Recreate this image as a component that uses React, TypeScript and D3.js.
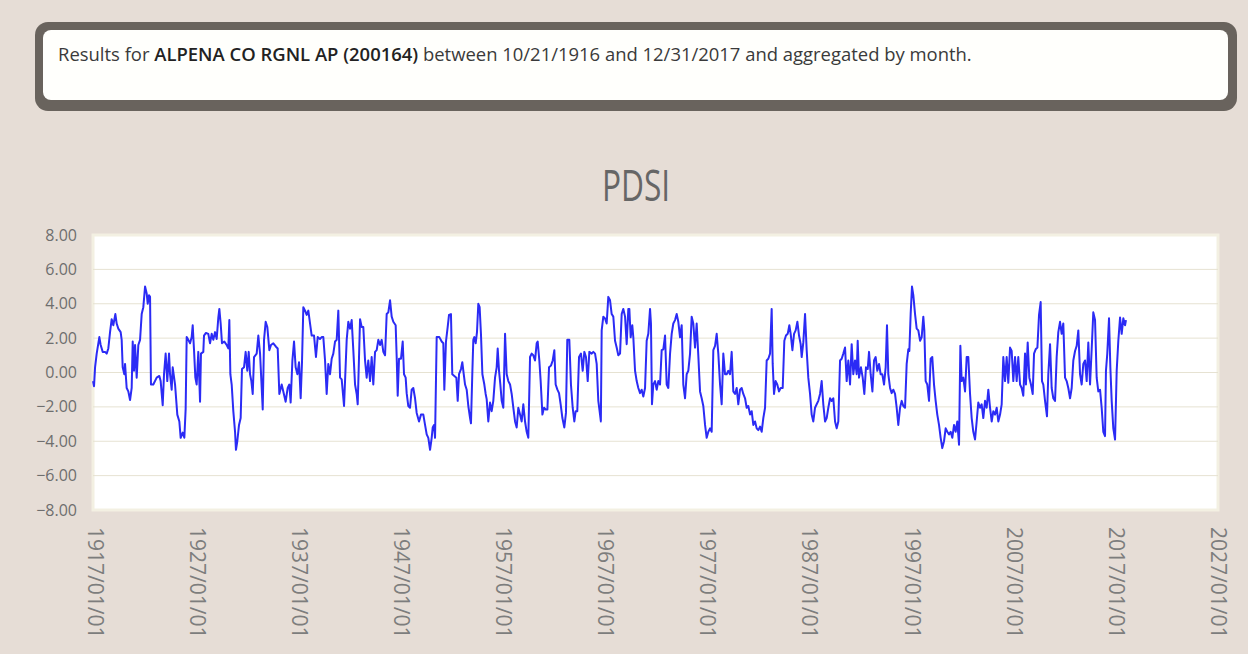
import * as d3 from "d3";

// PDSI monthly series (decimal year, value)
const years = [
  1916.75, 1916.85, 1916.95, 1917.11, 1917.37, 1917.5, 1917.7, 1917.93, 1918.09, 1918.25,
  1918.42, 1918.58, 1918.74, 1918.94, 1919.07, 1919.23, 1919.46, 1919.56, 1919.66, 1919.82,
  1919.89, 1920.05, 1920.21, 1920.38, 1920.54, 1920.64, 1920.77, 1920.87, 1921.03, 1921.19,
  1921.36, 1921.52, 1921.68, 1921.85, 1922.01, 1922.11, 1922.24, 1922.34, 1922.43, 1922.66,
  1922.99, 1923.25, 1923.38, 1923.58, 1923.71, 1923.87, 1924.03, 1924.2, 1924.3, 1924.46,
  1924.56, 1924.79, 1925.01, 1925.21, 1925.34, 1925.54, 1925.7, 1925.83, 1925.93, 1926.09,
  1926.26, 1926.42, 1926.52, 1926.65, 1926.78, 1926.91, 1927.07, 1927.24, 1927.33, 1927.56,
  1927.63, 1927.82, 1928.05, 1928.22, 1928.38, 1928.54, 1928.71, 1928.87, 1929.03, 1929.13,
  1929.26, 1929.39, 1929.62, 1929.85, 1930.01, 1930.11, 1930.21, 1930.34, 1930.5, 1930.67,
  1930.76, 1930.89, 1931.06, 1931.22, 1931.35, 1931.55, 1931.71, 1931.87, 1932.01, 1932.14,
  1932.27, 1932.4, 1932.53, 1932.79, 1932.95, 1933.12, 1933.25, 1933.38, 1933.51, 1933.67,
  1933.83, 1934.03, 1934.19, 1934.42, 1934.68, 1934.85, 1935.01, 1935.24, 1935.4, 1935.63,
  1935.83, 1935.99, 1936.12, 1936.29, 1936.45, 1936.61, 1936.78, 1936.94, 1937.1, 1937.23,
  1937.36, 1937.53, 1937.69, 1937.85, 1938.02, 1938.18, 1938.41, 1938.6, 1938.77, 1938.99,
  1939.16, 1939.32, 1939.49, 1939.65, 1939.81, 1939.98, 1940.14, 1940.3, 1940.47, 1940.63,
  1940.79, 1940.96, 1941.12, 1941.35, 1941.61, 1941.77, 1941.94, 1942.1, 1942.26, 1942.43,
  1942.59, 1942.69, 1942.82, 1942.92, 1943.08, 1943.24, 1943.41, 1943.57, 1943.73, 1943.9,
  1944.06, 1944.22, 1944.39, 1944.55, 1944.71, 1944.88, 1945.04, 1945.2, 1945.37, 1945.53,
  1945.69, 1945.86, 1946.02, 1946.18, 1946.41, 1946.51, 1946.61, 1946.74, 1946.93, 1947.1,
  1947.23, 1947.39, 1947.49, 1947.65, 1947.82, 1947.98, 1948.14, 1948.31, 1948.47, 1948.7,
  1948.89, 1949.12, 1949.29, 1949.45, 1949.61, 1949.78, 1949.94, 1950.04, 1950.17, 1950.27,
  1950.43, 1950.69, 1950.92, 1951.08, 1951.18, 1951.34, 1951.51, 1951.64, 1951.83, 1951.96,
  1952.16, 1952.36, 1952.49, 1952.62, 1952.81, 1952.94, 1953.08, 1953.21, 1953.37, 1953.53,
  1953.7, 1953.79, 1953.92, 1954.02, 1954.12, 1954.25, 1954.38, 1954.51, 1954.64, 1954.77,
  1954.91, 1955.1, 1955.23, 1955.33, 1955.49, 1955.66, 1955.82, 1955.98, 1956.15, 1956.31,
  1956.41, 1956.54, 1956.67, 1956.8, 1956.96, 1957.13, 1957.29, 1957.45, 1957.62, 1957.78,
  1957.94, 1958.11, 1958.27, 1958.43, 1958.6, 1958.76, 1958.92, 1959.09, 1959.25, 1959.41,
  1959.58, 1959.74, 1959.9, 1960.07, 1960.23, 1960.33, 1960.49, 1960.62, 1960.79, 1960.95,
  1961.11, 1961.28, 1961.44, 1961.63, 1961.8, 1961.96, 1962.09, 1962.26, 1962.42, 1962.58,
  1962.75, 1962.94, 1963.1, 1963.23, 1963.43, 1963.59, 1963.76, 1963.92, 1964.05, 1964.21,
  1964.38, 1964.57, 1964.74, 1964.9, 1965.06, 1965.23, 1965.39, 1965.62, 1965.78, 1965.95,
  1966.11, 1966.27, 1966.44, 1966.52, 1966.6, 1966.76, 1966.93, 1967.09, 1967.25, 1967.42,
  1967.58, 1967.74, 1967.91, 1968.07, 1968.23, 1968.4, 1968.56, 1968.72, 1968.89, 1969.05,
  1969.21, 1969.31, 1969.44, 1969.6, 1969.7, 1969.87, 1970.03, 1970.19, 1970.36, 1970.52,
  1970.68, 1970.85, 1971.01, 1971.17, 1971.34, 1971.43, 1971.53, 1971.66, 1971.83, 1971.99,
  1972.15, 1972.32, 1972.48, 1972.64, 1972.81, 1972.97, 1973.13, 1973.3, 1973.46, 1973.62,
  1973.79, 1973.95, 1974.11, 1974.28, 1974.44, 1974.6, 1974.77, 1974.93, 1975.09, 1975.26,
  1975.42, 1975.58, 1975.75, 1975.91, 1976.07, 1976.24, 1976.4, 1976.56, 1976.73, 1976.89,
  1977.05, 1977.22, 1977.38, 1977.54, 1977.71, 1977.87, 1978.03, 1978.2, 1978.36, 1978.52,
  1978.69, 1978.85, 1979.01, 1979.18, 1979.34, 1979.5, 1979.67, 1979.83, 1979.99, 1980.16,
  1980.32, 1980.48, 1980.65, 1980.81, 1980.97, 1981.14, 1981.3, 1981.46, 1981.63, 1981.79,
  1981.95, 1982.12, 1982.28, 1982.44, 1982.61, 1982.77, 1982.93, 1983.1, 1983.26, 1983.36,
  1983.49, 1983.65, 1983.81, 1983.98, 1984.14, 1984.34, 1984.5, 1984.66, 1984.83, 1984.99,
  1985.12, 1985.29, 1985.45, 1985.61, 1985.78, 1985.94, 1986.1, 1986.2, 1986.36, 1986.53,
  1986.69, 1986.85, 1987.02, 1987.18, 1987.34, 1987.51, 1987.67, 1987.83, 1988.0, 1988.16,
  1988.32, 1988.49, 1988.65, 1988.81, 1988.98, 1989.14, 1989.3, 1989.47, 1989.63, 1989.79,
  1989.96, 1990.12, 1990.28, 1990.45, 1990.61, 1990.77, 1990.94, 1991.1, 1991.26, 1991.43,
  1991.59, 1991.69, 1991.82, 1992.01, 1992.18, 1992.34, 1992.5, 1992.67, 1992.8, 1992.96,
  1993.13, 1993.29, 1993.45, 1993.61, 1993.78, 1993.94, 1994.1, 1994.27, 1994.43, 1994.56,
  1994.69, 1994.86, 1995.02, 1995.18, 1995.35, 1995.51, 1995.67, 1995.84, 1996.0, 1996.16,
  1996.33, 1996.49, 1996.65, 1996.75, 1996.88, 1997.01, 1997.14, 1997.31, 1997.47, 1997.63,
  1997.8, 1997.96, 1998.12, 1998.22, 1998.35, 1998.51, 1998.68, 1998.84, 1999.0, 1999.17,
  1999.33, 1999.49, 1999.66, 1999.82, 1999.98, 2000.15, 2000.31, 2000.47, 2000.64, 2000.8,
  2000.96, 2001.13, 2001.29, 2001.45, 2001.62, 2001.75, 2001.88, 2002.04, 2002.21, 2002.37,
  2002.53, 2002.7, 2002.86, 2003.02, 2003.19, 2003.35, 2003.51, 2003.68, 2003.84, 2004.0,
  2004.17, 2004.33, 2004.49, 2004.66, 2004.82, 2004.98, 2005.15, 2005.31, 2005.47, 2005.64,
  2005.8, 2005.96, 2006.13, 2006.29, 2006.45, 2006.62, 2006.78, 2006.94, 2007.11, 2007.27,
  2007.43, 2007.6, 2007.76, 2007.92, 2008.09, 2008.18, 2008.35, 2008.51, 2008.67, 2008.84,
  2008.97, 2009.13, 2009.3, 2009.46, 2009.62, 2009.75, 2009.88, 2010.05, 2010.24, 2010.37,
  2010.54, 2010.7, 2010.86, 2011.03, 2011.19, 2011.35, 2011.52, 2011.68, 2011.84, 2012.01,
  2012.17, 2012.33, 2012.5, 2012.66, 2012.82, 2012.99, 2013.15, 2013.31, 2013.48, 2013.64,
  2013.8, 2013.97, 2014.13, 2014.29, 2014.46, 2014.62, 2014.78, 2014.95, 2015.11, 2015.27,
  2015.44, 2015.6, 2015.76, 2015.93, 2016.02, 2016.15, 2016.32, 2016.45, 2016.58, 2016.74,
  2016.91, 2017.07, 2017.23, 2017.4, 2017.56, 2017.72, 2017.89, 2017.98,
];

const pdsi = [
  -0.5, -0.8, 0.3, 1.1, 2.06, 1.6, 1.2, 1.2, 1.1, 1.4,
  2.35, 3.1, 2.75, 3.4, 2.85, 2.55, 2.35, 1.9, 0.3, -0.1,
  0.5, -0.9, -1.1, -1.6, -0.9, 1.8, 0.1, 1.6, -0.3, 1.6,
  1.9, 3.4, 3.8, 5.0, 4.6, 4.0, 4.5, 4.4, -0.7, -0.7,
  -0.3, -0.2, -0.5, -1.9, -0.1, 1.1, -0.5, 1.1, -0.1, -1.0,
  0.3, -0.7, -2.45, -2.85, -3.8, -3.5, -3.8, -2.1, 2.06, 1.9,
  1.7, 2.06, 2.75, 1.3, -0.3, -0.7, 1.2, -1.7, 1.1, 1.2,
  2.15, 2.3, 2.25, 1.7, 2.25, 1.9, 2.35, 1.95, 3.2, 3.7,
  2.85, 1.7, 1.8, 1.6, 1.4, 3.05, -0.1, -0.7, -2.25, -3.45,
  -4.5, -4.0, -3.05, -2.65, 0.2, 0.3, 1.2, 0.1, 1.2, -0.1,
  -0.5, -1.25, 0.9, 1.1, 2.15, 1.1, -0.5, -2.15, 1.9, 2.95,
  2.65, 1.3, 1.6, 1.7, 1.5, 1.4, -1.25, -0.7, -1.1, -1.7,
  -0.9, -0.7, -1.75, 0.7, 1.8, 0.3, -0.1, 0.6, -1.5, 0.6,
  3.8, 3.6, 3.35, 3.6, 2.85, 2.15, 2.15, 0.9, 2.06, 1.95,
  2.06, 2.06, 0.7, -1.25, 0.5, -0.1, 0.8, 1.1, 1.8, 1.9,
  3.6, -0.3, -0.4, -1.95, 1.9, 2.95, 2.55, 3.05, 1.3, -0.7,
  -1.25, -1.85, 0.9, 3.1, 2.65, 2.65, 0.7, -0.3, 0.7, -0.5,
  0.9, -0.7, 1.2, 1.3, 1.9, 1.6, 1.9, 1.2, 1.0, 3.4,
  3.5, 4.2, 3.25, 2.95, 2.75, 0.9, -1.35, 0.8, 0.8, 1.8,
  -0.1, -0.3, -1.2, -1.95, -2.05, -1.0, -0.9, -1.5, -2.35, -2.85,
  -2.45, -2.45, -3.05, -3.6, -3.8, -4.5, -3.8, -3.2, -3.05, -3.8,
  2.06, 2.06, 1.8, 1.7, -1.0, 1.8, 2.65, 3.35, 3.4, -0.1,
  -0.2, -0.3, -1.65, -0.1, 0.2, 0.6, -0.1, -0.7, -1.0, -1.95,
  -2.65, -2.95, -0.1, 1.9, 2.06, 1.7, 2.35, 4.0, 3.8, 2.25,
  -0.1, -0.7, -1.25, -1.55, -2.85, -1.75, -2.25, -1.65, -0.3, 0.3,
  1.4, 0.1, -0.7, -1.65, -2.05, 2.25, -0.1, -0.5, -0.7, -1.25,
  -2.05, -2.85, -3.2, -2.05, -2.45, -2.85, -1.85, -2.85, -3.45, -3.8,
  0.9, 1.1, 1.0, 0.7, 1.7, 1.8, 0.7, -0.5, -2.45, -2.05,
  -2.15, -2.15, 0.3, 0.4, 0.7, 1.3, -0.7, -1.0, -1.2, -1.85,
  -2.65, -3.2, -2.35, 1.9, 1.9, -0.7, -2.05, -2.85, -2.25, -2.25,
  0.9, 1.1, 0.1, 1.2, 0.9, -0.5, 1.2, 1.1, 1.2, 1.1,
  0.5, -1.65, -2.45, -2.85, 2.45, 3.25, 3.15, 2.85, 4.4, 4.2,
  3.4, 3.25, 1.85, 1.45, 1.0, 1.1, 3.4, 3.7, 3.25, 1.65,
  3.7, 3.7, 2.05, 2.75, 2.05, 0.1, -0.5, -0.9, -1.2, -1.0,
  -1.4, -0.9, 1.85, 2.25, 3.7, 2.85, -1.85, -0.7, -0.5, -1.0,
  -0.5, -0.7, 1.3, 1.35, 2.15, -0.7, -0.9, 1.1, 2.25, 2.85,
  3.05, 3.4, 2.95, 2.05, 2.75, -0.7, -1.5, -0.1, 0.1, 1.1,
  3.25, 2.85, 1.45, 2.85, 1.0, -1.1, -1.5, -1.95, -3.05, -3.8,
  -3.45, -3.25, -3.45, 1.3, 1.55, 2.25, 1.1, -0.7, -1.85, 1.1,
  -0.1, -0.1, 0.1, -0.1, 1.2, -1.1, -1.25, -0.9, -1.85, -1.0,
  -0.9, -1.25, -1.5, -2.05, -1.95, -2.45, -2.25, -3.05, -2.85, -3.25,
  -3.35, -3.15, -3.45, -2.65, -2.05, 0.7, 0.8, 1.1, 3.7, 0.5,
  -1.25, -0.5, -0.7, -1.1, -0.9, -0.9, 1.85, 2.15, 2.25, 2.75,
  2.25, 1.3, 2.25, 2.45, 2.95, 2.15, 1.65, 0.9, 1.75, 3.4,
  1.3, -0.3, -1.25, -2.45, -2.85, -2.05, -1.85, -1.65, -1.25, -0.5,
  -1.85, -2.85, -2.65, -2.05, -1.5, -1.65, -1.5, -2.85, -3.25, -2.85,
  0.7, 0.8, 1.1, 1.45, -0.5, 0.7, -0.7, 1.65, -0.1, 0.7,
  -0.1, 1.85, -0.3, 0.3, -0.3, -1.25, 0.3, 0.2, 1.2, -0.1,
  -1.1, 0.7, 0.9, 0.1, 0.5, -0.1, -0.1, -0.7, 0.3, 2.75,
  -0.1, -0.9, -1.2, -1.0, -1.25, -2.05, -3.05, -2.05, -1.65, -1.95,
  -2.05, 0.5, 1.35, 1.25, 3.4, 5.0, 4.5, 3.4, 2.55, 2.45,
  1.85, 2.05, 3.25, 2.45, -0.5, -0.7, -1.65, 0.8, 0.9, -0.7,
  -1.65, -2.45, -3.05, -3.8, -4.4, -4.0, -3.25, -3.45, -3.6, -3.45,
  -3.8, -3.05, -3.45, -2.85, -4.2, 1.55, -0.5, -0.3, -1.1, 0.9,
  0.9, -1.25, -2.65, -3.45, -3.9, -2.85, -1.75, -2.05, -1.85, -2.65,
  -1.65, -2.05, -1.0, -2.05, -2.85, -2.25, -2.45, -2.05, -2.85, -2.45,
  -1.85, 0.9, -0.5, 0.9, -0.6, 1.45, 1.25, -0.5, 0.9, -0.5,
  0.9, -0.7, -0.9, -1.35, 1.1, -0.7, 1.75, -0.3, -0.7, -1.25,
  1.1, 1.35, 1.45, 3.35, 4.1, -0.5, -0.7, -1.65, -2.55, -0.1,
  1.65, -0.9, -1.5, -1.65, 0.9, 2.35, 2.95, 2.25, 2.85, -0.3,
  -0.5, -0.9, -1.5, -0.9, 0.7, 1.25, 1.55, 2.45, -0.1, -0.7,
  0.5, 0.7, -0.5, 1.75, -0.7, 1.35, 3.5, 3.05, -0.3, -1.1,
  -1.0, -2.05, -3.45, -3.7, 0.1, 1.1, 3.15, 0.3, -1.65, -3.25,
  -3.9, 0.1, 1.85, 3.2, 2.25, 3.15, 2.75, 3.05,
];

const yTicks = [8, 6, 4, 2, 0, -2, -4, -6, -8];
const xTickYears = [1917, 1927, 1937, 1947, 1957, 1967, 1977, 1987, 1997, 2007, 2017, 2027];

const stationName = "ALPENA CO RGNL AP (200164)";
const chartTitle = "PDSI";

const W = 1248;
const H = 654;
const plot = { left: 93, right: 1218, top: 235, bottom: 510 };

function decYearToDate(y: number) {
  const yr = Math.floor(y);
  const start = Date.UTC(yr, 0, 1);
  const end = Date.UTC(yr + 1, 0, 1);
  return new Date(start + (y - yr) * (end - start));
}

export default function App() {
  const x = d3
    .scaleUtc()
    .domain([new Date(Date.UTC(1916, 9, 1)), new Date(Date.UTC(2027, 0, 1))])
    .range([plot.left, plot.right]);
  const y = d3.scaleLinear().domain([-8, 8]).range([plot.bottom, plot.top]);

  const points = years.map((yr, i) => ({ date: decYearToDate(yr), v: pdsi[i] }));
  const line = d3
    .line<{ date: Date; v: number }>()
    .x((d) => x(d.date))
    .y((d) => y(d.v));

  const fmt = d3.format(".2f");
  const font = "'Open Sans', 'Noto Sans', sans-serif";

  return (
    <div style={{ position: "fixed", left: 0, top: 0, width: W, height: H }}>
      <svg width={W} height={H} style={{ display: "block" }}>
        <rect x={0} y={0} width={W} height={H} fill="#e6ddd6" />

        {/* header box */}
        <rect x={35} y={22} width={1202} height={89} rx={13} fill="#69635d" />
        <rect x={43} y={30} width={1185} height={70} rx={8} fill="#fffffc" />
        <text x={58} y={61} fontFamily={font} fontSize={18.45} fill="#3a3a3a">
          Results for{" "}
          <tspan fontWeight={600} fill="#222">
            {stationName}
          </tspan>{" "}
          between 10/21/1916 and 12/31/2017 and aggregated by month.
        </text>

        {/* title */}
        <text
          transform="translate(636,201) scale(0.72,1)"
          textAnchor="middle"
          fontFamily={font}
          fontSize={44}
          fill="#666"
        >
          {chartTitle}
        </text>

        {/* plot area */}
        <rect
          x={plot.left}
          y={plot.top}
          width={plot.right - plot.left}
          height={plot.bottom - plot.top}
          fill="#ffffff"
          stroke="#f3f0e2"
          strokeWidth={3}
        />
        {yTicks
          .filter((t) => t !== 8 && t !== -8)
          .map((t) => (
            <line
              key={t}
              x1={plot.left}
              x2={plot.right}
              y1={y(t)}
              y2={y(t)}
              stroke="#e6e2d2"
              strokeWidth={1}
            />
          ))}

        {/* y labels */}
        {yTicks.map((t) => (
          <text
            key={t}
            x={77}
            y={y(t)}
            dy="0.35em"
            textAnchor="end"
            fontFamily={font}
            fontSize={16}
            fill="#6e6e6e"
          >
            {fmt(t)}
          </text>
        ))}

        {/* x labels */}
        {xTickYears.map((yr) => {
          const tx = x(new Date(Date.UTC(yr, 0, 1)));
          return (
            <text
              key={yr}
              transform={`translate(${tx},527) rotate(90)`}
              dy="0.35em"
              textAnchor="start"
              fontFamily={font}
              fontSize={21}
              fill="#7d7d7d"
            >
              {`${yr}/01/01`}
            </text>
          );
        })}

        {/* series */}
        <path
          d={line(points) ?? ""}
          fill="none"
          stroke="#2b2bf5"
          strokeWidth={2}
          strokeLinejoin="round"
        />
      </svg>
    </div>
  );
}
